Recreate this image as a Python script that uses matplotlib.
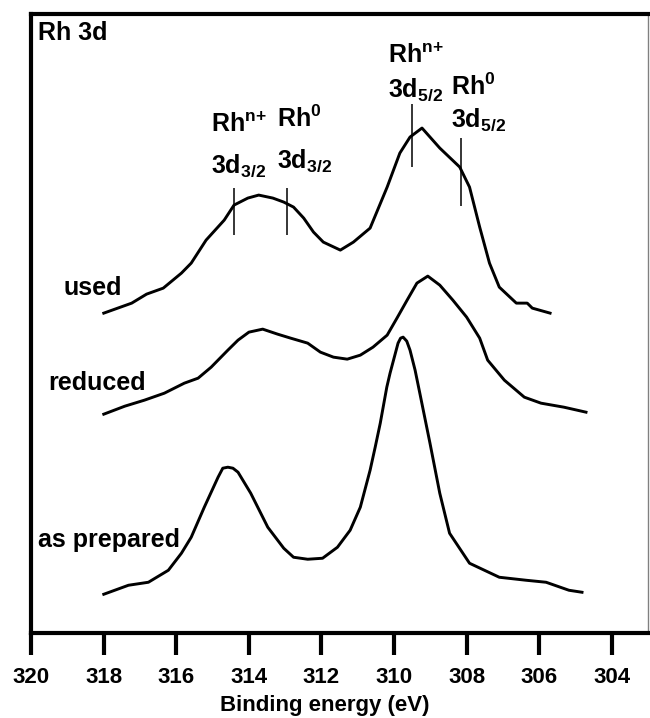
import matplotlib
matplotlib.use('Agg')
import matplotlib.pyplot as plt

plt.rcParams['font.family'] = ['Liberation Sans', 'DejaVu Sans']
plt.rcParams['font.weight'] = 'bold'
plt.rcParams['mathtext.default'] = 'regular'

# Rh 3d XPS spectra, binding energy (eV) vs. intensity (a.u., stacked)
be_used = [318.00, 317.23, 316.82, 316.36, 315.86, 315.59, 315.18, 314.68, 314.41,
           314.03, 313.73, 313.34, 313.04, 312.77, 312.49, 312.22, 311.95, 311.48,
           311.12, 310.66, 310.19, 309.84, 309.56, 309.23, 308.74, 308.19, 307.92,
           307.64, 307.37, 307.10, 306.63, 306.33, 306.19, 305.70]
int_used = [320, 330, 339, 345, 360, 370, 393, 413, 428,
            435, 438, 435, 431, 426, 415, 401, 391, 383,
            391, 405, 446, 480, 496, 505, 485, 466, 446,
            406, 370, 346, 330, 330, 325, 320]

be_reduced = [318.00, 317.42, 316.88, 316.33, 315.78, 315.40, 315.04, 314.58, 314.30,
              314.00, 313.62, 313.21, 312.85, 312.38, 312.03, 311.67, 311.29, 310.93,
              310.58, 310.19, 309.92, 309.64, 309.37, 309.07, 308.74, 308.38, 308.00,
              307.64, 307.42, 306.96, 306.41, 305.95, 305.32, 304.71]
int_reduced = [219, 227, 233, 240, 250, 255, 266, 283, 293,
               301, 304, 299, 295, 290, 281, 276, 274, 278,
               286, 298, 315, 333, 350, 357, 348, 333, 316,
               295, 273, 253, 236, 230, 226, 221]

be_prep = [318.00, 317.32, 316.77, 316.22, 315.86, 315.59, 315.23, 314.85, 314.72,
           314.58, 314.44, 314.30, 313.95, 313.48, 313.04, 312.77, 312.38, 311.97,
           311.56, 311.21, 310.93, 310.66, 310.52, 310.38, 310.20, 310.11, 309.89,
           309.82, 309.75, 309.65, 309.56, 309.42, 309.29, 309.01, 308.74, 308.47,
           307.92, 307.10, 306.36, 305.81, 305.18, 304.82]
int_prep = [39, 48, 51, 63, 80, 96, 126, 156, 165,
            166, 165, 161, 140, 106, 85, 76, 74, 75,
            86, 103, 126, 163, 186, 210, 246, 260, 290,
            295, 296, 292, 283, 263, 240, 190, 140, 100,
            70, 56, 53, 51, 43, 41]

# component positions marked on the "used" spectrum
peak_be = [314.41, 312.96, 309.51, 308.16]
peak_lo = [398, 398, 466, 427]
peak_hi = [445, 445, 529, 495]

xticks = [320, 318, 316, 314, 312, 310, 308, 306, 304]

fig = plt.figure(figsize=(6.5, 7.18), dpi=100)
ax = fig.add_axes([0.048, 0.118, 0.949, 0.8625])

for be, inten in [(be_used, int_used), (be_reduced, int_reduced), (be_prep, int_prep)]:
    ax.plot(be, inten, color='black', lw=2.1, solid_joinstyle='round')

ax.vlines(peak_be, peak_lo, peak_hi, color='black', lw=1.1)

ax.set_xlim(320, 303)
ax.set_ylim(0, 619)
ax.set_xticks(xticks)
ax.set_xticklabels([str(t) for t in xticks])
ax.set_yticks([])
ax.tick_params(axis='x', direction='out', length=16, width=3, labelsize=16, pad=8)
for side in ['left', 'bottom', 'top']:
    ax.spines[side].set_linewidth(3)
ax.spines['right'].set_linewidth(1)
ax.spines['right'].set_color('0.5')

ax.set_xlabel('Binding energy (eV)', fontsize=16, fontweight='bold')
ax.xaxis.set_label_coords(0.476, -0.100)

fs = 18
ax.text(319.81, 600, 'Rh 3d', fontsize=fs, ha='left', va='center')
ax.text(319.10, 345, 'used', fontsize=fs, ha='left', va='center')
ax.text(319.53, 250, 'reduced', fontsize=fs, ha='left', va='center')
ax.text(319.81, 93, 'as prepared', fontsize=fs, ha='left', va='center')

ax.text(315.04, 501, 'Rh$^{n{+}}$', fontsize=fs, ha='left', va='baseline')
ax.text(315.04, 460, '3d$_{3/2}$', fontsize=fs, ha='left', va='baseline')
ax.text(313.23, 506, 'Rh$^{0}$', fontsize=fs, ha='left', va='baseline')
ax.text(313.23, 465, '3d$_{3/2}$', fontsize=fs, ha='left', va='baseline')
ax.text(310.16, 570, 'Rh$^{n{+}}$', fontsize=fs, ha='left', va='baseline')
ax.text(310.16, 536, '3d$_{5/2}$', fontsize=fs, ha='left', va='baseline')
ax.text(308.44, 538, 'Rh$^{0}$', fontsize=fs, ha='left', va='baseline')
ax.text(308.44, 506, '3d$_{5/2}$', fontsize=fs, ha='left', va='baseline')

fig.savefig('out.png', dpi=100)
